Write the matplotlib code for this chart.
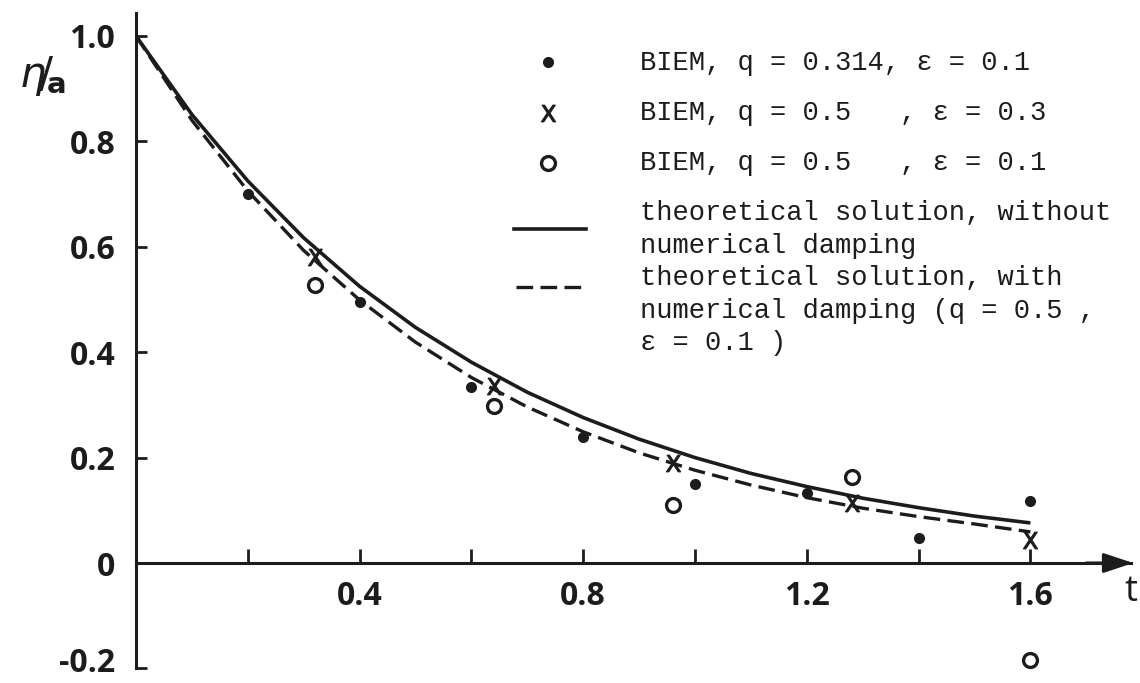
import matplotlib
matplotlib.use("Agg")
import matplotlib.pyplot as plt
from matplotlib.lines import Line2D

# ---- data ----
t_dot = [0.2, 0.4, 0.6, 0.8, 1.0, 1.2, 1.4, 1.6]
v_dot = [0.70, 0.495, 0.334, 0.239, 0.150, 0.132, 0.048, 0.117]

t_cross = [0.32, 0.64, 0.96, 1.28, 1.60]
v_cross = [0.580, 0.335, 0.190, 0.114, 0.044]

t_circle = [0.32, 0.64, 0.96, 1.28, 1.60]
v_circle = [0.527, 0.298, 0.110, 0.163, -0.184]

t_curve = [0.0, 0.1, 0.2, 0.3, 0.4, 0.5, 0.6, 0.7, 0.8, 0.9, 1.0,
           1.1, 1.2, 1.3, 1.4, 1.5, 1.6]
v_solid = [1.000, 0.851, 0.725, 0.617, 0.525, 0.447, 0.381, 0.324, 0.276,
           0.235, 0.200, 0.170, 0.145, 0.123, 0.105, 0.089, 0.076]
v_dashed = [1.000, 0.840, 0.706, 0.593, 0.499, 0.419, 0.352, 0.296, 0.249,
            0.209, 0.176, 0.148, 0.124, 0.104, 0.088, 0.074, 0.059]

y_ticks = [1.0, 0.8, 0.6, 0.4, 0.2, 0.0, -0.2]
y_tick_labels = ["1.0", "0.8", "0.6", "0.4", "0.2", "0", "-0.2"]
x_ticks = [0.2, 0.4, 0.6, 0.8, 1.0, 1.2, 1.4, 1.6]
x_tick_labels = ["", "0.4", "", "0.8", "", "1.2", "", "1.6"]

legend_labels = [
    "BIEM, q = 0.314, \u03b5 = 0.1",
    "BIEM, q = 0.5   , \u03b5 = 0.3",
    "BIEM, q = 0.5   , \u03b5 = 0.1",
    "theoretical solution, without",
    "numerical damping",
    "theoretical solution, with",
    "numerical damping (q = 0.5 ,",
    "\u03b5 = 0.1 )",
]

# ---- figure ----
W, H = 1140, 683
INK = "#1c1c1c"
fig = plt.figure(figsize=(W / 100, H / 100), dpi=100)
fig.patch.set_facecolor("white")

def fx(x):
    return x / W

def fy(y):
    return 1 - y / H

x0_px, y0_px = 136, 563
sx, sy = 559.0, 527.0
xmax = (1131 - x0_px) / sx
ymin, ymax = -0.2, (y0_px - 13) / sy
left = x0_px / W
bottom = (H - (y0_px - ymin * sy)) / H
ax = fig.add_axes([left, bottom, (xmax * sx) / W, ((ymax - ymin) * sy) / H])
ax.set_xlim(0, xmax)
ax.set_ylim(ymin, ymax)
ax.set_facecolor("white")

for s in ["top", "right"]:
    ax.spines[s].set_visible(False)
ax.spines["left"].set_linewidth(2.2)
ax.spines["left"].set_color(INK)
ax.spines["bottom"].set_position(("data", 0))
ax.spines["bottom"].set_linewidth(2.2)
ax.spines["bottom"].set_color(INK)

ax.annotate("", xy=(xmax + 0.004, 0), xytext=(xmax - 0.08, 0),
            arrowprops=dict(arrowstyle="-|>,head_length=0.6,head_width=0.2",
                            color=INK, lw=2.2, mutation_scale=30,
                            shrinkA=0, shrinkB=0),
            annotation_clip=False)

tick_font = dict(family=["Open Sans", "DejaVu Sans"], fontsize=23, fontweight="bold")
ax.set_yticks(y_ticks)
# lowest label is drawn separately (slightly raised so it stays inside the image)
ax.set_yticklabels(y_tick_labels[:-1] + [""], **tick_font, color=INK)
ax.text(-21 / (xmax * sx), y_ticks[-1] + 0.016, y_tick_labels[-1],
        transform=ax.get_yaxis_transform(), ha="right", va="center_baseline",
        **tick_font, color=INK, clip_on=False)
ax.set_xticks(x_ticks)
ax.set_xticklabels(x_tick_labels, **tick_font, color=INK)
ax.tick_params(axis="y", direction="in", length=8, width=2, color=INK, pad=15)
ax.tick_params(axis="x", direction="in", length=10, width=2, color=INK, pad=12)

# curves
ax.plot(t_curve, v_solid, color=INK, lw=2.6, solid_capstyle="butt")
ax.plot(t_curve, v_dashed, color=INK, lw=2.4, dashes=(5, 2.2))

# markers
XMARK = r"$\mathsf{X}$"
ax.plot(t_dot, v_dot, "o", color=INK, ms=7, clip_on=False)
ax.plot(t_cross, v_cross, linestyle="none", marker=XMARK, color=INK, ms=12,
        mew=0.8, clip_on=False)
ax.plot(t_circle, v_circle, "o", mfc="white", mec=INK, mew=2.4, ms=10,
        clip_on=False)

# axis labels
fig.text(fx(1131), fy(592), "t", ha="center", va="center",
         family=["Open Sans", "DejaVu Sans"], fontsize=26, color=INK)
fig.text(fx(42), fy(76), r"$\eta\!/\!_{\mathbf{a}}$", ha="center",
         va="center", fontsize=30, color=INK)

# legend (drawn manually)
leg_font = dict(family=["Liberation Mono", "DejaVu Sans Mono"], fontsize=19.5,
                color=INK)
row_y = [60, 110, 160, 210, 243, 275, 308, 340]
for lab, yy in zip(legend_labels, row_y):
    fig.text(fx(640), fy(yy), lab, ha="left", va="center_baseline", **leg_font)

fig.add_artist(Line2D([fx(548)], [fy(62)], marker="o", color=INK, ms=7,
                      linestyle="none"))
fig.add_artist(Line2D([fx(548)], [fy(113)], marker=XMARK, color=INK, ms=12,
                      mew=0.8, linestyle="none"))
fig.add_artist(Line2D([fx(548)], [fy(163)], marker="o", mfc="white", mec=INK,
                      mew=2.4, ms=10, linestyle="none"))
fig.add_artist(Line2D([fx(514), fx(586)], [fy(229), fy(229)], color=INK,
                      lw=2.6))
fig.add_artist(Line2D([fx(516), fx(586)], [fy(287), fy(287)], color=INK,
                      lw=2.4, dashes=(5, 2.2)))

fig.savefig("out.png", dpi=100, facecolor="white")
